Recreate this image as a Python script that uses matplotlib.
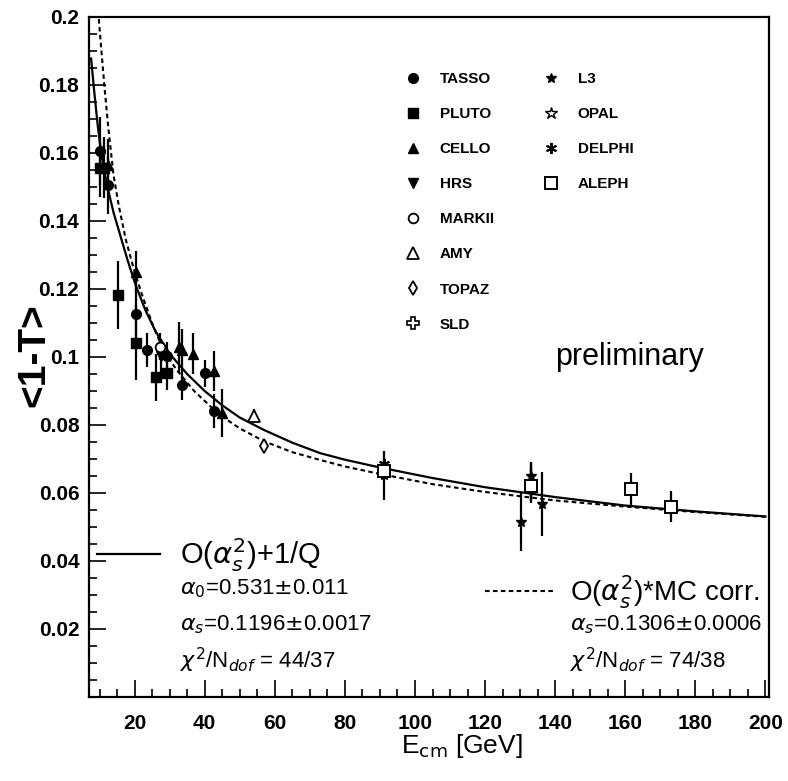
import matplotlib
matplotlib.use('Agg')
import matplotlib.pyplot as plt
from matplotlib.ticker import MultipleLocator, FuncFormatter

plt.rcParams['font.family'] = ['Liberation Sans', 'DejaVu Sans']
plt.rcParams['mathtext.fontset'] = 'dejavusans'

# fit curves
solid_E = [7.6, 8.5, 9.5, 10.5, 12, 14, 16, 18, 20.3, 23, 26, 30, 35, 40, 45,
           50, 57, 65, 73, 80, 90, 105, 120, 140, 160, 180, 200]
solid_T = [0.1878, 0.178, 0.168, 0.1598, 0.1512, 0.1425, 0.1355, 0.1285, 0.1212,
           0.1140, 0.1075, 0.1010, 0.0950, 0.0900, 0.0858, 0.0822, 0.0785, 0.0748,
           0.0717, 0.0698, 0.0675, 0.0644, 0.0617, 0.0588, 0.0563, 0.0546, 0.0531]
dashed_E = [9.8, 10.5, 11.5, 12.5, 14, 15.5, 17.5, 20, 22.5, 25, 27, 29, 32, 37,
            44, 50, 57, 65, 73, 80, 90, 105, 120, 140, 160, 180, 200]
dashed_T = [0.1994, 0.1905, 0.1785, 0.1675, 0.1535, 0.1445, 0.1345, 0.1250, 0.1172,
            0.1100, 0.1050, 0.1008, 0.0962, 0.0900, 0.0832, 0.0790, 0.0752, 0.0720,
            0.0697, 0.0678, 0.0656, 0.0626, 0.0603, 0.0578, 0.0560, 0.0544, 0.0530]

# data points: energy, <1-T>, error
tasso_E = [10.2, 12.3, 20.3, 23.5, 29.2, 33.4, 40.2, 42.8]
tasso_T = [0.1607, 0.1506, 0.1126, 0.1022, 0.1004, 0.0919, 0.0952, 0.0842]
tasso_err = [0.0100, 0.0085, 0.0080, 0.0050, 0.0040, 0.0045, 0.0040, 0.0050]

pluto_E = [10.0, 11.4, 15.3, 20.3, 26.0, 29.3]
pluto_T = [0.1557, 0.1557, 0.1182, 0.1042, 0.0940, 0.0952]
pluto_err = [0.0085, 0.0090, 0.0100, 0.0110, 0.0070, 0.0050]

cello_E = [12.4, 20.4, 32.6, 33.6, 36.7, 42.8, 44.9]
cello_T = [0.1565, 0.1251, 0.1028, 0.1021, 0.1010, 0.0959, 0.0836]
cello_err = [0.0075, 0.0060, 0.0075, 0.0060, 0.0060, 0.0060, 0.0070]

hrs_E, hrs_T, hrs_err = [27.6], [0.1004], [0.0050]
markii_E, markii_T, markii_err = [27.3], [0.1030], [0.0040]
amy_E, amy_T, amy_err = [54.1], [0.0826], [0.0020]
topaz_E, topaz_T, topaz_err = [56.9], [0.0739], [0.0020]
sld_E, sld_T, sld_err = [91.2], [0.0662], [0.0020]

l3_E = [91.2, 130.2, 133.1, 136.2]
l3_T = [0.0652, 0.0516, 0.0650, 0.0568]
l3_err = [0.0072, 0.0088, 0.0042, 0.0095]

opal_E = [91.2, 133.1]
opal_T = [0.0668, 0.0630]
opal_err = [0.0020, 0.0060]

delphi_E = [91.2, 133.1]
delphi_T = [0.0685, 0.0626]
delphi_err = [0.0020, 0.0050]

aleph_E = [91.2, 133.1, 161.7, 172.9]
aleph_T = [0.0665, 0.0622, 0.0612, 0.0560]
aleph_err = [0.0015, 0.0035, 0.0047, 0.0046]

fig = plt.figure(figsize=(7.88, 7.81), dpi=100)
ax = fig.add_axes([89/788, 84/781, 680/788, 680/781])

ax.plot(solid_E, solid_T, color='black', lw=1.6, zorder=2)
ax.plot(dashed_E, dashed_T, color='black', lw=1.5, ls=(0, (2.2, 1.6)), zorder=2)

series = [
    ('TASSO', tasso_E, tasso_T, tasso_err, dict(marker='o', ms=7, mfc='black')),
    ('PLUTO', pluto_E, pluto_T, pluto_err, dict(marker='s', ms=6.5, mfc='black')),
    ('CELLO', cello_E, cello_T, cello_err, dict(marker='^', ms=7, mfc='black')),
    ('HRS', hrs_E, hrs_T, hrs_err, dict(marker='v', ms=7, mfc='black')),
    ('MARKII', markii_E, markii_T, markii_err, dict(marker='o', ms=7, mfc='white', mew=1.3)),
    ('AMY', amy_E, amy_T, amy_err, dict(marker='^', ms=8, mfc='white', mew=1.3)),
    ('TOPAZ', topaz_E, topaz_T, topaz_err, dict(marker='d', ms=7, mfc='white', mew=1.3)),
    ('SLD', sld_E, sld_T, sld_err, dict(marker='P', ms=8, mfc='white', mew=1.2)),
    ('L3', l3_E, l3_T, l3_err, dict(marker='*', ms=7, mfc='black')),
    ('OPAL', opal_E, opal_T, opal_err, dict(marker='*', ms=9, mfc='white', mew=1.0)),
    ('DELPHI', delphi_E, delphi_T, delphi_err, dict(marker=(6, 2, 0), ms=8, mew=1.4)),
    ('ALEPH', aleph_E, aleph_T, aleph_err, dict(marker='s', ms=9, mfc='white', mew=1.4)),
]

handles = []
for name, E, T, err, style in series:
    ax.errorbar(E, T, yerr=err, fmt='none', ecolor='black', elinewidth=1.6,
                capsize=0, zorder=3)
    h, = ax.plot(E, T, ls='none', color='black', mec='black', label=name,
                 zorder=4, **style)
    handles.append(h)

ax.set_xlim(7, 201)
ax.set_ylim(0, 0.2)
ax.xaxis.set_major_locator(MultipleLocator(20))
ax.xaxis.set_minor_locator(MultipleLocator(5))
ax.yaxis.set_major_locator(MultipleLocator(0.02))
ax.yaxis.set_minor_locator(MultipleLocator(0.005))
ax.yaxis.set_major_formatter(FuncFormatter(lambda v, p: '' if abs(v) < 1e-9 else f'{v:g}'))
ax.tick_params(which='both', direction='in', top=False, right=False, width=1.2)
ax.tick_params(which='major', length=12)
ax.tick_params(which='minor', length=6)
ax.tick_params(axis='x', pad=12)
ax.tick_params(axis='y', pad=7)
for lab in ax.get_xticklabels() + ax.get_yticklabels():
    lab.set_fontsize(15)
    lab.set_fontweight('bold')
for s in ax.spines.values():
    s.set_linewidth(1.6)

ax.set_xlabel(r'E$_{\mathrm{cm}}$ [GeV]', fontsize=19)
ax.xaxis.set_label_coords(0.549, -0.052)
ax.set_ylabel('<1-T>', fontsize=28, fontweight='bold')
ax.yaxis.set_label_coords(-0.054, 0.503)

leg_kw = dict(loc='upper left', frameon=False, prop={'size': 11, 'weight': 'bold'},
              handlelength=1.0, handletextpad=1.25, labelspacing=1.38,
              borderpad=0, borderaxespad=0)
leg1 = ax.legend(handles=handles[:8], bbox_to_anchor=(0.465, 0.919), **leg_kw)
ax.add_artist(leg1)
leg2 = ax.legend(handles=handles[8:], bbox_to_anchor=(0.668, 0.919), **leg_kw)
ax.add_artist(leg2)

solid_key, = ax.plot([], [], color='black', lw=1.6)
dashed_key, = ax.plot([], [], color='black', lw=1.5, ls=(0, (2.2, 1.6)))
leg3 = ax.legend([solid_key], [r'O($\alpha_s^2$)+1/Q'], loc='upper left',
                 bbox_to_anchor=(0.012, 0.236), frameon=False, fontsize=21,
                 handlelength=2.16, handletextpad=0.69, borderpad=0, borderaxespad=0)
ax.add_artist(leg3)
leg4 = ax.legend([dashed_key], [r'O($\alpha_s^2$)*MC corr.'], loc='upper left',
                 bbox_to_anchor=(0.583, 0.182), frameon=False, fontsize=20,
                 handlelength=2.52, handletextpad=0.54, borderpad=0, borderaxespad=0)

ax.text(0.134, 0.160, r'$\alpha_0$=0.531$\pm$0.011', transform=ax.transAxes,
        fontsize=16, va='center')
ax.text(0.134, 0.107, r'$\alpha_s$=0.1196$\pm$0.0017', transform=ax.transAxes,
        fontsize=16, va='center')
ax.text(0.134, 0.054, r'$\chi^2$/N$_{dof}$ = 44/37', transform=ax.transAxes,
        fontsize=16, va='center')
ax.text(0.708, 0.107, r'$\alpha_s$=0.1306$\pm$0.0006', transform=ax.transAxes,
        fontsize=16, va='center')
ax.text(0.708, 0.054, r'$\chi^2$/N$_{dof}$ = 74/38', transform=ax.transAxes,
        fontsize=16, va='center')
ax.text(0.685, 0.50, 'preliminary', transform=ax.transAxes, fontsize=22, va='center')

fig.savefig('out.png', dpi=100)
